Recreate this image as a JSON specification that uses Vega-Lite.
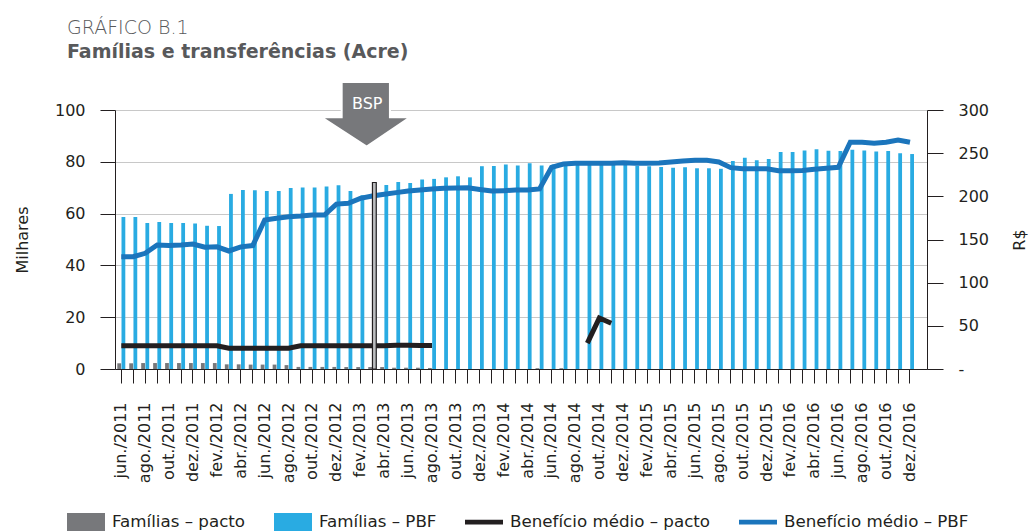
{
  "$schema": "https://vega.github.io/schema/vega-lite/v6.json",
  "width": 812,
  "height": 259,
  "autosize": "none",
  "padding": {"left": 115, "top": 110, "right": 107, "bottom": 162},
  "config": {
    "font": "DejaVu Sans",
    "view": {"stroke": null},
    "axis": {"labelFontSize": 16, "labelColor": "#231f20", "titleFontSize": 16, "titleFontWeight": "normal", "titleColor": "#231f20", "domainColor": "#231f20", "tickColor": "#231f20"}
  },
  "title": {
    "text": "GRÁFICO B.1",
    "subtitle": "Famílias e transferências (Acre)",
    "anchor": "start",
    "frame": "group",
    "dx": -48,
    "fontSize": 19,
    "fontWeight": 200,
    "color": "#58595b",
    "subtitleFontSize": 19,
    "subtitleFontWeight": "bold",
    "subtitleColor": "#58595b",
    "subtitlePadding": 5,
    "offset": 16
  },
  "data": {
    "values": [
      {"mes": "2011-06-01", "Famílias – pacto": 2.2, "Famílias – PBF": 58.7, "Benefício médio – pacto": 27, "Benefício médio – PBF": 130},
      {"mes": "2011-07-01", "Famílias – pacto": 2.2, "Famílias – PBF": 58.7, "Benefício médio – pacto": 27, "Benefício médio – PBF": 130},
      {"mes": "2011-08-01", "Famílias – pacto": 2.3, "Famílias – PBF": 56.4, "Benefício médio – pacto": 27, "Benefício médio – PBF": 134},
      {"mes": "2011-09-01", "Famílias – pacto": 2.3, "Famílias – PBF": 56.8, "Benefício médio – pacto": 27, "Benefício médio – PBF": 143.6},
      {"mes": "2011-10-01", "Famílias – pacto": 2.3, "Famílias – PBF": 56.4, "Benefício médio – pacto": 27, "Benefício médio – PBF": 143},
      {"mes": "2011-11-01", "Famílias – pacto": 2.3, "Famílias – PBF": 56.4, "Benefício médio – pacto": 27, "Benefício médio – PBF": 143.6},
      {"mes": "2011-12-01", "Famílias – pacto": 2.3, "Famílias – PBF": 56.2, "Benefício médio – pacto": 27, "Benefício médio – PBF": 144.8},
      {"mes": "2012-01-01", "Famílias – pacto": 2.3, "Famílias – PBF": 55.3, "Benefício médio – pacto": 27, "Benefício médio – PBF": 141},
      {"mes": "2012-02-01", "Famílias – pacto": 2.3, "Famílias – PBF": 55.2, "Benefício médio – pacto": 27, "Benefício médio – PBF": 141.5},
      {"mes": "2012-03-01", "Famílias – pacto": 1.8, "Famílias – PBF": 67.6, "Benefício médio – pacto": 24, "Benefício médio – PBF": 136.7},
      {"mes": "2012-04-01", "Famílias – pacto": 1.8, "Famílias – PBF": 69.1, "Benefício médio – pacto": 24, "Benefício médio – PBF": 141.5},
      {"mes": "2012-05-01", "Famílias – pacto": 1.7, "Famílias – PBF": 69.0, "Benefício médio – pacto": 24, "Benefício médio – PBF": 143},
      {"mes": "2012-06-01", "Famílias – pacto": 1.7, "Famílias – PBF": 68.7, "Benefício médio – pacto": 24, "Benefício médio – PBF": 172.6},
      {"mes": "2012-07-01", "Famílias – pacto": 1.7, "Famílias – PBF": 68.7, "Benefício médio – pacto": 24, "Benefício médio – PBF": 174.5},
      {"mes": "2012-08-01", "Famílias – pacto": 1.5, "Famílias – PBF": 69.9, "Benefício médio – pacto": 24, "Benefício médio – PBF": 176.4},
      {"mes": "2012-09-01", "Famílias – pacto": 0.8, "Famílias – PBF": 70.1, "Benefício médio – pacto": 27, "Benefício médio – PBF": 177.2},
      {"mes": "2012-10-01", "Famílias – pacto": 0.8, "Famílias – PBF": 70.1, "Benefício médio – pacto": 27, "Benefício médio – PBF": 178.4},
      {"mes": "2012-11-01", "Famílias – pacto": 0.8, "Famílias – PBF": 70.5, "Benefício médio – pacto": 27, "Benefício médio – PBF": 178.4},
      {"mes": "2012-12-01", "Famílias – pacto": 0.8, "Famílias – PBF": 70.9, "Benefício médio – pacto": 27, "Benefício médio – PBF": 191},
      {"mes": "2013-01-01", "Famílias – pacto": 0.75, "Famílias – PBF": 68.7, "Benefício médio – pacto": 27, "Benefício médio – PBF": 192},
      {"mes": "2013-02-01", "Famílias – pacto": 0.75, "Famílias – PBF": 67.1, "Benefício médio – pacto": 27, "Benefício médio – PBF": 197.7},
      {"mes": "2013-03-01", "Famílias – pacto": 0.75, "Famílias – PBF": 72.0, "Benefício médio – pacto": 27, "Benefício médio – PBF": 200.4},
      {"mes": "2013-04-01", "Famílias – pacto": 0.75, "Famílias – PBF": 71.0, "Benefício médio – pacto": 27, "Benefício médio – PBF": 202.5},
      {"mes": "2013-05-01", "Famílias – pacto": 0.5, "Famílias – PBF": 72.2, "Benefício médio – pacto": 27.5, "Benefício médio – PBF": 204.3},
      {"mes": "2013-06-01", "Famílias – pacto": 0.5, "Famílias – PBF": 71.8, "Benefício médio – pacto": 27.5, "Benefício médio – PBF": 206.2},
      {"mes": "2013-07-01", "Famílias – pacto": 0.5, "Famílias – PBF": 73.2, "Benefício médio – pacto": 27.2, "Benefício médio – PBF": 207.3},
      {"mes": "2013-08-01", "Famílias – pacto": 0.4, "Famílias – PBF": 73.4, "Benefício médio – pacto": 27.2, "Benefício médio – PBF": 208.5},
      {"mes": "2013-09-01", "Famílias – pacto": 0, "Famílias – PBF": 74.0, "Benefício médio – pacto": null, "Benefício médio – PBF": 209.3},
      {"mes": "2013-10-01", "Famílias – pacto": 0, "Famílias – PBF": 74.4, "Benefício médio – pacto": null, "Benefício médio – PBF": 209.7},
      {"mes": "2013-11-01", "Famílias – pacto": 0, "Famílias – PBF": 74.0, "Benefício médio – pacto": null, "Benefício médio – PBF": 210},
      {"mes": "2013-12-01", "Famílias – pacto": 0, "Famílias – PBF": 78.3, "Benefício médio – pacto": null, "Benefício médio – PBF": 208},
      {"mes": "2014-01-01", "Famílias – pacto": 0, "Famílias – PBF": 78.4, "Benefício médio – pacto": null, "Benefício médio – PBF": 206.2},
      {"mes": "2014-02-01", "Famílias – pacto": 0, "Famílias – PBF": 79.0, "Benefício médio – pacto": null, "Benefício médio – PBF": 206.6},
      {"mes": "2014-03-01", "Famílias – pacto": 0, "Famílias – PBF": 78.6, "Benefício médio – pacto": null, "Benefício médio – PBF": 207.3},
      {"mes": "2014-04-01", "Famílias – pacto": 0, "Famílias – PBF": 79.4, "Benefício médio – pacto": null, "Benefício médio – PBF": 207.3},
      {"mes": "2014-05-01", "Famílias – pacto": 0.3, "Famílias – PBF": 78.6, "Benefício médio – pacto": null, "Benefício médio – PBF": 208.5},
      {"mes": "2014-06-01", "Famílias – pacto": 0, "Famílias – PBF": 79.0, "Benefício médio – pacto": null, "Benefício médio – PBF": 233.6},
      {"mes": "2014-07-01", "Famílias – pacto": 0.3, "Famílias – PBF": 79.2, "Benefício médio – pacto": null, "Benefício médio – PBF": 237.4},
      {"mes": "2014-08-01", "Famílias – pacto": 0, "Famílias – PBF": 79.3, "Benefício médio – pacto": null, "Benefício médio – PBF": 238.2},
      {"mes": "2014-09-01", "Famílias – pacto": 0, "Famílias – PBF": 79.2, "Benefício médio – pacto": 30, "Benefício médio – PBF": 238.2},
      {"mes": "2014-10-01", "Famílias – pacto": 0, "Famílias – PBF": 79.0, "Benefício médio – pacto": 59, "Benefício médio – PBF": 238.2},
      {"mes": "2014-11-01", "Famílias – pacto": 0, "Famílias – PBF": 79.0, "Benefício médio – pacto": 53, "Benefício médio – PBF": 238.2},
      {"mes": "2014-12-01", "Famílias – pacto": 0, "Famílias – PBF": 78.8, "Benefício médio – pacto": null, "Benefício médio – PBF": 239},
      {"mes": "2015-01-01", "Famílias – pacto": 0, "Famílias – PBF": 78.5, "Benefício médio – pacto": null, "Benefício médio – PBF": 238.2},
      {"mes": "2015-02-01", "Famílias – pacto": 0, "Famílias – PBF": 78.3, "Benefício médio – pacto": null, "Benefício médio – PBF": 238.2},
      {"mes": "2015-03-01", "Famílias – pacto": 0, "Famílias – PBF": 78.0, "Benefício médio – pacto": null, "Benefício médio – PBF": 238.6},
      {"mes": "2015-04-01", "Famílias – pacto": 0, "Famílias – PBF": 77.7, "Benefício médio – pacto": null, "Benefício médio – PBF": 239.8},
      {"mes": "2015-05-01", "Famílias – pacto": 0, "Famílias – PBF": 77.9, "Benefício médio – pacto": null, "Benefício médio – PBF": 240.9},
      {"mes": "2015-06-01", "Famílias – pacto": 0, "Famílias – PBF": 77.5, "Benefício médio – pacto": null, "Benefício médio – PBF": 241.7},
      {"mes": "2015-07-01", "Famílias – pacto": 0, "Famílias – PBF": 77.5, "Benefício médio – pacto": null, "Benefício médio – PBF": 241.7},
      {"mes": "2015-08-01", "Famílias – pacto": 0, "Famílias – PBF": 77.3, "Benefício médio – pacto": null, "Benefício médio – PBF": 239.8},
      {"mes": "2015-09-01", "Famílias – pacto": 0, "Famílias – PBF": 80.3, "Benefício médio – pacto": null, "Benefício médio – PBF": 233.2},
      {"mes": "2015-10-01", "Famílias – pacto": 0, "Famílias – PBF": 81.6, "Benefício médio – pacto": null, "Benefício médio – PBF": 232},
      {"mes": "2015-11-01", "Famílias – pacto": 0, "Famílias – PBF": 80.6, "Benefício médio – pacto": null, "Benefício médio – PBF": 232},
      {"mes": "2015-12-01", "Famílias – pacto": 0, "Famílias – PBF": 81.1, "Benefício médio – pacto": null, "Benefício médio – PBF": 232},
      {"mes": "2016-01-01", "Famílias – pacto": 0, "Famílias – PBF": 83.8, "Benefício médio – pacto": null, "Benefício médio – PBF": 229.7},
      {"mes": "2016-02-01", "Famílias – pacto": 0, "Famílias – PBF": 83.8, "Benefício médio – pacto": null, "Benefício médio – PBF": 229.7},
      {"mes": "2016-03-01", "Famílias – pacto": 0, "Famílias – PBF": 84.4, "Benefício médio – pacto": null, "Benefício médio – PBF": 230},
      {"mes": "2016-04-01", "Famílias – pacto": 0, "Famílias – PBF": 84.8, "Benefício médio – pacto": null, "Benefício médio – PBF": 231.3},
      {"mes": "2016-05-01", "Famílias – pacto": 0, "Famílias – PBF": 84.3, "Benefício médio – pacto": null, "Benefício médio – PBF": 232.5},
      {"mes": "2016-06-01", "Famílias – pacto": 0, "Famílias – PBF": 84.2, "Benefício médio – pacto": null, "Benefício médio – PBF": 233.6},
      {"mes": "2016-07-01", "Famílias – pacto": 0, "Famílias – PBF": 84.7, "Benefício médio – pacto": null, "Benefício médio – PBF": 262.6},
      {"mes": "2016-08-01", "Famílias – pacto": 0, "Famílias – PBF": 84.4, "Benefício médio – pacto": null, "Benefício médio – PBF": 262.6},
      {"mes": "2016-09-01", "Famílias – pacto": 0, "Famílias – PBF": 84.0, "Benefício médio – pacto": null, "Benefício médio – PBF": 261.4},
      {"mes": "2016-10-01", "Famílias – pacto": 0, "Famílias – PBF": 84.2, "Benefício médio – pacto": null, "Benefício médio – PBF": 262.6},
      {"mes": "2016-11-01", "Famílias – pacto": 0, "Famílias – PBF": 83.3, "Benefício médio – pacto": null, "Benefício médio – PBF": 265.3},
      {"mes": "2016-12-01", "Famílias – pacto": 0, "Famílias – PBF": 83.0, "Benefício médio – pacto": null, "Benefício médio – PBF": 262.6}
    ]
  },
  "layer": [
    {
      "layer": [
        {
          "transform": [{"fold": ["Famílias – pacto", "Famílias – PBF"], "as": ["serie", "valor"]}],
          "mark": {"type": "bar"},
          "encoding": {
            "x": {
              "field": "mes", "timeUnit": "utcyearmonth", "type": "ordinal",
              "scale": {"type": "band", "paddingInner": 0.33, "paddingOuter": 0.64, "align": 0.15},
              "axis": {
                "title": null,
                "labelAngle": -90,
                "labelExpr": "utcmonth(datum.value) % 2 == 1 ? ['jan.','fev.','mar.','abr.','mai.','jun.','jul.','ago.','set.','out.','nov.','dez.'][utcmonth(datum.value)] + '/' + utcyear(datum.value) : ''",
                "tickSize": 14,
                "labelPadding": 19,
                "grid": false,
                "encode": {"ticks": {"update": {"opacity": {"signal": "utcmonth(datum.value) % 2 == 1 ? 1 : 0"}}}}
              }
            },
            "xOffset": {"field": "serie", "type": "nominal", "scale": {"domain": ["Famílias – pacto", "Famílias – PBF"], "paddingInner": 0.1}},
            "y": {
              "field": "valor", "type": "quantitative",
              "scale": {"domain": [0, 100]},
              "axis": {
                "title": "Milhares",
                "values": [0, 20, 40, 60, 80, 100],
                "grid": true,
                "gridColor": "#c8c8c8",
                "tickSize": 15,
                "labelPadding": 15,
                "titlePadding": 24
              }
            },
            "color": {
              "field": "serie", "type": "nominal",
              "scale": {
                "domain": ["Famílias – pacto", "Famílias – PBF", "Benefício médio – pacto", "Benefício médio – PBF"],
                "range": ["#77787b", "#29abe2", "#231f20", "#1b75bc"]
              },
              "legend": {
                "title": null,
                "orient": "none",
                "legendX": -48,
                "legendY": 393,
                "direction": "horizontal",
                "columns": 4,
                "columnPadding": 28,
                "padding": 0,
                "labelFontSize": 16.7,
                "labelColor": "#231f20",
                "labelOffset": 7,
                "labelLimit": 400,
                "symbolSize": 1444,
                "encode": {
                  "symbols": {
                    "update": {
                      "shape": {"signal": "indexof(datum.label, 'Famílias') == 0 ? 'M-1,-0.47H1V0.47H-1Z' : 'M-1,-0.12H1V0.12H-1Z'"},
                      "fill": {"signal": "scale('color', datum.value)"},
                      "strokeWidth": {"value": 0},
                      "opacity": {"value": 1}
                    }
                  }
                }
              }
            }
          }
        },
        {
          "data": {"values": [{"mes": "2013-03-01", "rotulo": "BSP"}]},
          "layer": [
            {
              "mark": {"type": "point", "shape": "M-0.695,-0.8L0.402,-0.8L0.402,0L0.857,0L-0.127,0.668L-1.15,0L-0.695,0Z", "size": 7744, "filled": true, "fill": "#77787b", "stroke": "#ffffff", "strokeWidth": 2, "opacity": 1},
              "encoding": {
                "x": {"field": "mes", "timeUnit": "utcyearmonth", "type": "ordinal"},
                "y": {"datum": 97.2}
              }
            },
            {
              "mark": {"type": "text", "color": "#ffffff", "fontSize": 16, "dx": -5, "align": "center", "baseline": "middle"},
              "encoding": {
                "x": {"field": "mes", "timeUnit": "utcyearmonth", "type": "ordinal"},
                "y": {"datum": 102.4},
                "text": {"field": "rotulo"}
              }
            }
          ]
        }
      ]
    },
    {
      "transform": [{"fold": ["Benefício médio – pacto", "Benefício médio – PBF"], "as": ["serie", "valor"]}],
      "mark": {"type": "line", "strokeWidth": 5, "invalid": "break-paths-show-domains"},
      "encoding": {
        "x": {"field": "mes", "timeUnit": "utcyearmonth", "type": "ordinal"},
        "y": {
          "field": "valor", "type": "quantitative",
          "scale": {"domain": [0, 300]},
          "axis": {
            "orient": "right",
            "title": "R$",
            "titleAngle": 270,
            "values": [0, 50, 100, 150, 200, 250, 300],
            "labelExpr": "datum.value == 0 ? '-' : datum.label",
            "grid": false,
            "tickSize": 16,
            "labelPadding": 15,
            "titlePadding": 39
          }
        },
        "color": {"field": "serie", "type": "nominal"}
      }
    },
    {
      "transform": [{"filter": {"field": "mes", "timeUnit": "utcyearmonth", "equal": {"year": 2013, "month": 3, "utc": true}}}],
      "mark": {"type": "bar", "fill": "#bcbec0", "stroke": "#231f20", "strokeWidth": 1.2},
      "encoding": {
        "x": {"field": "mes", "timeUnit": "utcyearmonth", "type": "ordinal"},
        "xOffset": {"datum": "Famílias – PBF"},
        "y": {"field": "Famílias – PBF", "type": "quantitative", "scale": {"domain": [0, 100]}, "axis": null}
      }
    }
  ],
  "resolve": {"scale": {"y": "independent"}, "axis": {"y": "independent"}}
}
